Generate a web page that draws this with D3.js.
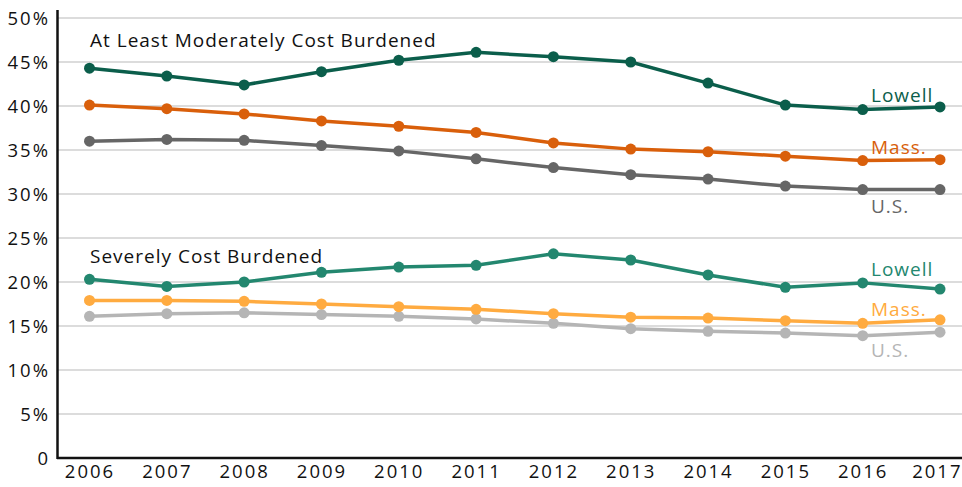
<!DOCTYPE html>
<html>
<head>
<meta charset="utf-8">
<script src="https://cdn.jsdelivr.net/npm/d3@7"></script>
<style>
  body { margin: 0; background: #fff; }
  svg text { font-family: "Open Sans", sans-serif; }
  .grid line { stroke: #dcdcdc; stroke-width: 2; }
  .tick text { font-size: 18.5px; fill: #111; letter-spacing: 2px; }
  .label { font-size: 19px; letter-spacing: 1px; }
</style>
</head>
<body>
<svg class="chart" width="962" height="487"></svg>
<script>
var years = [2006, 2007, 2008, 2009, 2010, 2011, 2012, 2013, 2014, 2015, 2016, 2017];

// at least moderately cost burdened (%)
var lowellModerate = [44.3, 43.4, 42.4, 43.9, 45.2, 46.1, 45.6, 45.0, 42.6, 40.1, 39.6, 39.9];
var massModerate   = [40.1, 39.7, 39.1, 38.3, 37.7, 37.0, 35.8, 35.1, 34.8, 34.3, 33.8, 33.9];
var usModerate     = [36.0, 36.2, 36.1, 35.5, 34.9, 34.0, 33.0, 32.2, 31.7, 30.9, 30.5, 30.5];

// severely cost burdened (%)
var lowellSevere = [20.3, 19.5, 20.0, 21.1, 21.7, 21.9, 23.2, 22.5, 20.8, 19.4, 19.9, 19.2];
var massSevere   = [17.9, 17.9, 17.8, 17.5, 17.2, 16.9, 16.4, 16.0, 15.9, 15.6, 15.3, 15.7];
var usSevere     = [16.1, 16.4, 16.5, 16.3, 16.1, 15.8, 15.3, 14.7, 14.4, 14.2, 13.9, 14.3];

var yTicks = [0, 5, 10, 15, 20, 25, 30, 35, 40, 45, 50];

var series = [
  {name: "Lowell", values: lowellModerate, colour: "#0b5e4b", labelY: 102},
  {name: "Mass.",  values: massModerate,   colour: "#d95f0b", labelY: 154},
  {name: "U.S.",   values: usModerate,     colour: "#666666", labelY: 213},
  {name: "Lowell", values: lowellSevere,   colour: "#23876f", labelY: 276},
  {name: "Mass.",  values: massSevere,     colour: "#ffab40", labelY: 316},
  {name: "U.S.",   values: usSevere,       colour: "#b5b5b5", labelY: 357}
];

var width = 962, height = 487;

var xScale = d3.scaleLinear()
    .domain([2006, 2017])
    .range([89.5, 940]);

var yScale = d3.scaleLinear()
    .domain([0, 50])
    .range([458, 18]);

var chart = d3.select(".chart");

// gridlines
chart.append("g")
    .attr("class", "grid")
    .selectAll("line")
    .data(yTicks.filter(function(d) { return d > 0; }))
  .enter().append("line")
    .attr("x1", 58)
    .attr("x2", width)
    .attr("y1", function(d) { return yScale(d); })
    .attr("y2", function(d) { return yScale(d); });

var yAxis = d3.axisLeft(yScale)
    .tickValues(yTicks)
    .tickSize(0)
    .tickPadding(8)
    .tickFormat(function(d) { return d === 0 ? "0" : d + "%"; });

chart.append("g")
    .attr("transform", "translate(58,0)")
    .call(yAxis)
    .call(function(g) { g.select(".domain").remove(); })
    .selectAll("text").attr("dy", "0.35em");

var xAxis = d3.axisBottom(xScale)
    .tickValues(years)
    .tickSize(0)
    .tickPadding(7)
    .tickFormat(d3.format("d"));

chart.append("g")
    .attr("transform", "translate(0,458)")
    .call(xAxis)
    .call(function(g) { g.select(".domain").remove(); })
    .selectAll(".tick:last-child text")
    .attr("text-anchor", "end")
    .attr("dx", 22);

// axis lines
chart.append("line")
    .attr("x1", 57.5).attr("x2", 57.5)
    .attr("y1", 10).attr("y2", 459)
    .attr("stroke", "#111").attr("stroke-width", 2.5);
chart.append("line")
    .attr("x1", 57).attr("x2", width)
    .attr("y1", 458).attr("y2", 458)
    .attr("stroke", "#111").attr("stroke-width", 2.5);

var line = d3.line()
    .x(function(d, i) { return xScale(years[i]); })
    .y(function(d) { return yScale(d); });

var groups = chart.selectAll(".series")
    .data(series.slice().reverse())
  .enter().append("g")
    .attr("class", "series");

groups.append("path")
    .attr("d", function(s) { return line(s.values); })
    .attr("fill", "none")
    .attr("stroke", function(s) { return s.colour; })
    .attr("stroke-width", 3.5);

groups.selectAll("circle")
    .data(function(s) { return s.values.map(function(v, i) { return {v: v, i: i, c: s.colour}; }); })
  .enter().append("circle")
    .attr("cx", function(d) { return xScale(years[d.i]); })
    .attr("cy", function(d) { return yScale(d.v); })
    .attr("r", 5.5)
    .attr("fill", function(d) { return d.c; });

groups.append("text")
    .attr("class", "label")
    .attr("x", 871)
    .attr("y", function(s) { return s.labelY; })
    .style("fill", function(s) { return s.colour; })
    .text(function(s) { return s.name; });

chart.append("text")
    .attr("class", "label")
    .attr("x", 90).attr("y", 47)
    .style("fill", "#111")
    .text("At Least Moderately Cost Burdened");

chart.append("text")
    .attr("class", "label")
    .attr("x", 90).attr("y", 263)
    .style("fill", "#111")
    .text("Severely Cost Burdened");
</script>
</body>
</html>
